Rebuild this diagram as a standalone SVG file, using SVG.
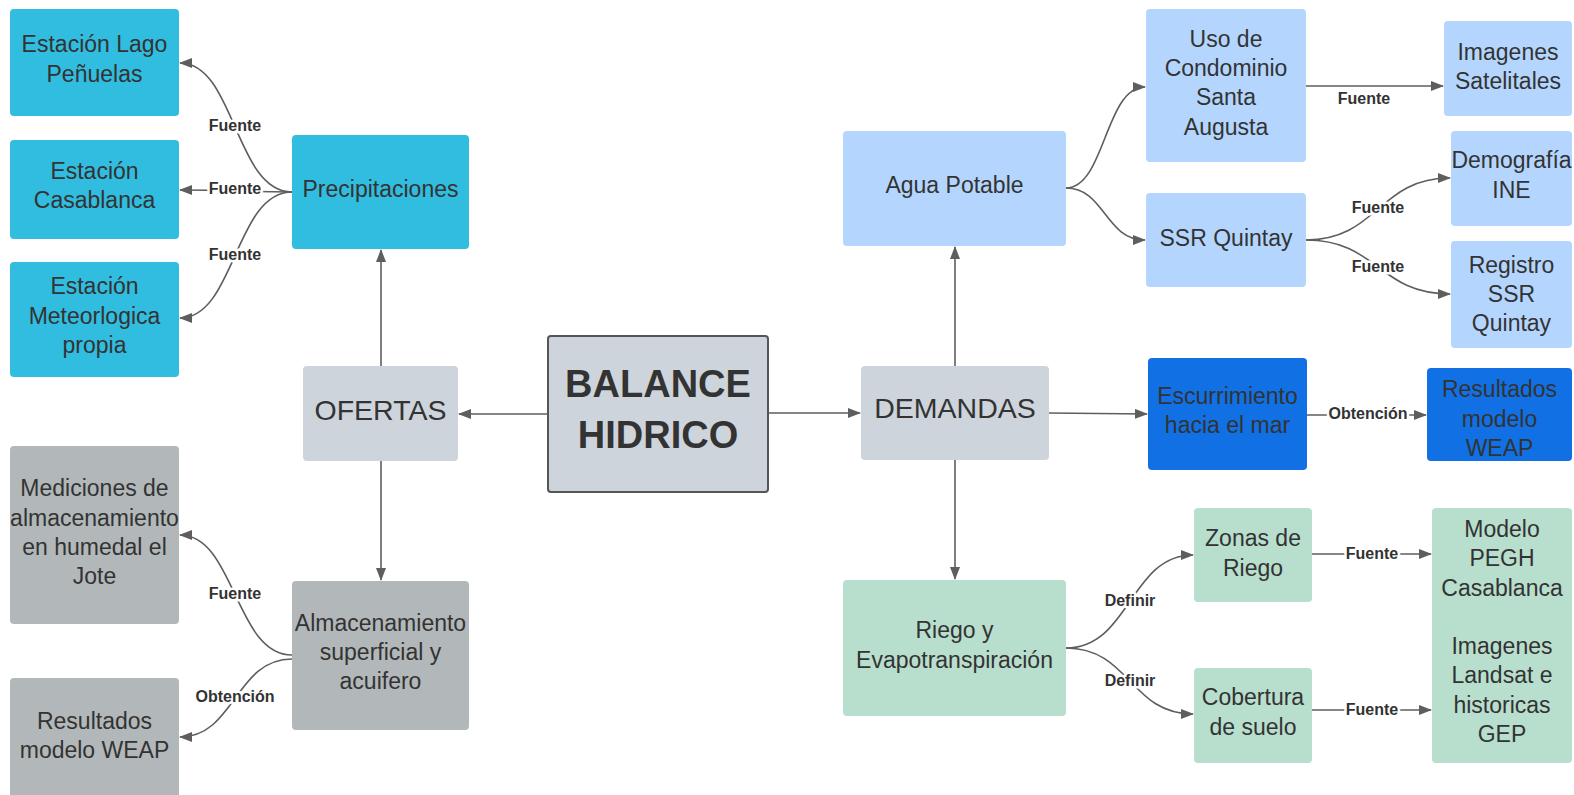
<svg xmlns="http://www.w3.org/2000/svg" width="1574" height="795" viewBox="0 0 1574 795">
<style>
.t{font-family:"Liberation Sans",Arial,sans-serif;font-size:23px;fill:#333;text-anchor:middle}
.big{font-size:28.5px}
.title{font-size:38px;font-weight:bold}
.lbl{font-family:"Liberation Sans",Arial,sans-serif;font-size:16px;font-weight:bold;fill:#333;text-anchor:middle;stroke:#fff;stroke-width:5;paint-order:stroke;stroke-linejoin:round}
.cyan{fill:#31bde0}
.pale{fill:#ced4db}
.gray{fill:#b2b8b9}
.lb{fill:#b4d6fe}
.db{fill:#1170e3}
.mint{fill:#b8dfce}
.c{fill:none;stroke:#5e5e5e;stroke-width:1.6;marker-end:url(#ah)}
</style>
<defs>
<marker id="ah" markerUnits="userSpaceOnUse" markerWidth="13" markerHeight="10" refX="12" refY="5" orient="auto">
<path d="M0,0 L13,5 L0,10 z" fill="#5e5e5e"/>
</marker>
</defs>
<rect width="1574" height="795" fill="#fff"/>
<g id="connectors">
<path class="c" d="M548,414 L459,414"/>
<path class="c" d="M768,413 L860,413"/>
<path class="c" d="M381,366 L381,250"/>
<path class="c" d="M381,461 L381,580"/>
<path class="c" d="M292,192 C235,192 235,63 180,63"/>
<path class="c" d="M292,192 C235,192 235,190 180,190"/>
<path class="c" d="M292,192 C235,192 235,318 180,318"/>
<path class="c" d="M292,655 C235,655 235,535 180,535"/>
<path class="c" d="M292,659 C235,659 235,737 180,737"/>
<path class="c" d="M955,366 L955,247"/>
<path class="c" d="M955,460 L955,579"/>
<path class="c" d="M1049,413 L1147,414"/>
<path class="c" d="M1066,188 C1105,188 1105,87 1145,87"/>
<path class="c" d="M1066,188 C1105,188 1105,240 1145,240"/>
<path class="c" d="M1306,86 L1443,86"/>
<path class="c" d="M1306,240 C1378,240 1378,178 1450,178"/>
<path class="c" d="M1306,240 C1378,240 1378,294 1450,294"/>
<path class="c" d="M1307,415 L1426,415"/>
<path class="c" d="M1066,648 C1130,648 1130,555 1193,555"/>
<path class="c" d="M1066,648 C1130,648 1130,714 1193,714"/>
<path class="c" d="M1312,554 L1431,554"/>
<path class="c" d="M1312,710 L1431,710"/>
<text class="lbl" x="235" y="131">Fuente</text>
<text class="lbl" x="235" y="194">Fuente</text>
<text class="lbl" x="235" y="260">Fuente</text>
<text class="lbl" x="235" y="599">Fuente</text>
<text class="lbl" x="235" y="702">Obtención</text>
<text class="lbl" x="1364" y="104">Fuente</text>
<text class="lbl" x="1378" y="213">Fuente</text>
<text class="lbl" x="1378" y="272">Fuente</text>
<text class="lbl" x="1368" y="419">Obtención</text>
<text class="lbl" x="1130" y="606">Definir</text>
<text class="lbl" x="1130" y="686">Definir</text>
<text class="lbl" x="1372" y="559">Fuente</text>
<text class="lbl" x="1372" y="715">Fuente</text>
</g>
<g id="balance"><rect x="548" y="336" width="220" height="156" rx="3" class="pale" stroke="#555" stroke-width="2"/><text class="t title" x="658" y="397">BALANCE</text><text class="t title" x="658" y="448">HIDRICO</text></g>
<g id="ofertas"><rect x="303" y="366" width="155" height="95" rx="4" class="pale"/><text class="t big" x="380.5" y="420">OFERTAS</text></g>
<g id="demandas"><rect x="861" y="366" width="188" height="94" rx="4" class="pale"/><text class="t big" x="955" y="418">DEMANDAS</text></g>
<g id="precipitaciones"><rect x="292" y="135" width="177" height="114" rx="4" class="cyan"/><text class="t" x="380.5" y="197">Precipitaciones</text></g>
<g id="lago"><rect x="10" y="9" width="169" height="107" rx="4" class="cyan"/><text class="t" x="94.5" y="52">Estación Lago</text><text class="t" x="94.5" y="81.5">Peñuelas</text></g>
<g id="casablanca"><rect x="10" y="140" width="169" height="99" rx="4" class="cyan"/><text class="t" x="94.5" y="179">Estación</text><text class="t" x="94.5" y="208">Casablanca</text></g>
<g id="meteo"><rect x="10" y="262" width="169" height="115" rx="4" class="cyan"/><text class="t" x="94.5" y="294">Estación</text><text class="t" x="94.5" y="323.5">Meteorlogica</text><text class="t" x="94.5" y="353">propia</text></g>
<g id="almacenamiento"><rect x="292" y="581" width="177" height="149" rx="4" class="gray"/><text class="t" x="380.5" y="630.5">Almacenamiento</text><text class="t" x="380.5" y="660">superficial y</text><text class="t" x="380.5" y="689">acuifero</text></g>
<g id="mediciones"><rect x="10" y="446" width="169" height="178" rx="4" class="gray"/><text class="t" x="94.5" y="496">Mediciones de</text><text class="t" x="94.5" y="525.5">almacenamiento</text><text class="t" x="94.5" y="555">en humedal el</text><text class="t" x="94.5" y="584">Jote</text></g>
<g id="weap-left"><rect x="10" y="678" width="169" height="130" rx="4" class="gray"/><text class="t" x="94.5" y="729">Resultados</text><text class="t" x="94.5" y="758">modelo WEAP</text></g>
<g id="agua"><rect x="843" y="131" width="223" height="115" rx="4" class="lb"/><text class="t" x="954.5" y="192.5">Agua Potable</text></g>
<g id="uso"><rect x="1146" y="9" width="160" height="153" rx="4" class="lb"/><text class="t" x="1226" y="46.5">Uso de</text><text class="t" x="1226" y="76">Condominio</text><text class="t" x="1226" y="105">Santa</text><text class="t" x="1226" y="134.5">Augusta</text></g>
<g id="imagenes"><rect x="1444" y="21" width="128" height="95" rx="4" class="lb"/><text class="t" x="1508" y="60">Imagenes</text><text class="t" x="1508" y="89">Satelitales</text></g>
<g id="ssr"><rect x="1146" y="193" width="160" height="94" rx="4" class="lb"/><text class="t" x="1226" y="246">SSR Quintay</text></g>
<g id="demografia"><rect x="1451" y="131" width="121" height="95" rx="4" class="lb"/><text class="t" x="1511.5" y="168">Demografía</text><text class="t" x="1511.5" y="197.5">INE</text></g>
<g id="registro"><rect x="1451" y="241" width="121" height="107" rx="4" class="lb"/><text class="t" x="1511.5" y="272.5">Registro</text><text class="t" x="1511.5" y="301.5">SSR</text><text class="t" x="1511.5" y="331">Quintay</text></g>
<g id="escurrimiento"><rect x="1148" y="358" width="159" height="112" rx="4" class="db"/><text class="t" x="1227.5" y="404">Escurrimiento</text><text class="t" x="1227.5" y="433">hacia el mar</text></g>
<g id="weap-right"><rect x="1427" y="368" width="145" height="93" rx="4" class="db"/><text class="t" x="1499.5" y="397">Resultados</text><text class="t" x="1499.5" y="427">modelo</text><text class="t" x="1499.5" y="456">WEAP</text></g>
<g id="riego"><rect x="843" y="580" width="223" height="136" rx="4" class="mint"/><text class="t" x="954.5" y="638">Riego y</text><text class="t" x="954.5" y="667.5">Evapotranspiración</text></g>
<g id="zonas"><rect x="1194" y="508" width="118" height="94" rx="4" class="mint"/><text class="t" x="1253" y="546">Zonas de</text><text class="t" x="1253" y="576">Riego</text></g>
<g id="cobertura"><rect x="1194" y="668" width="118" height="95" rx="4" class="mint"/><text class="t" x="1253" y="705">Cobertura</text><text class="t" x="1253" y="735">de suelo</text></g>
<g id="modelo"><rect x="1432" y="508" width="140" height="255" rx="4" class="mint"/><text class="t" x="1502" y="536.5">Modelo</text><text class="t" x="1502" y="566">PEGH</text><text class="t" x="1502" y="595.5">Casablanca</text><text class="t" x="1502" y="654">Imagenes</text><text class="t" x="1502" y="683">Landsat e</text><text class="t" x="1502" y="712.5">historicas</text><text class="t" x="1502" y="742">GEP</text></g>
</svg>
